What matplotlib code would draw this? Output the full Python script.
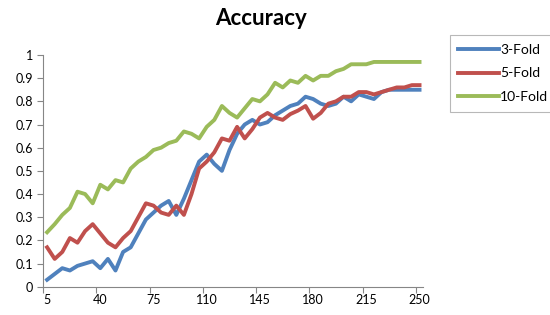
import matplotlib.pyplot as plt

plt.rcParams['font.family'] = ['Lato', 'DejaVu Sans']

steps = list(range(5, 251, 5))

fold3 = [0.03, 0.055, 0.08, 0.07, 0.09, 0.10, 0.11, 0.08, 0.12, 0.07,
         0.15, 0.17, 0.23, 0.29, 0.32, 0.35, 0.37, 0.31, 0.38, 0.46,
         0.54, 0.57, 0.53, 0.50, 0.59, 0.66, 0.70, 0.72, 0.70, 0.71,
         0.74, 0.76, 0.78, 0.79, 0.82, 0.81, 0.79, 0.78, 0.79, 0.82,
         0.80, 0.83, 0.82, 0.81, 0.84, 0.85, 0.85, 0.85, 0.85, 0.85]

fold5 = [0.17, 0.12, 0.15, 0.21, 0.19, 0.24, 0.27, 0.23, 0.19, 0.17,
         0.21, 0.24, 0.30, 0.36, 0.35, 0.32, 0.31, 0.35, 0.31, 0.40,
         0.51, 0.54, 0.58, 0.64, 0.63, 0.69, 0.64, 0.68, 0.73, 0.75,
         0.73, 0.72, 0.745, 0.76, 0.78, 0.725, 0.75, 0.79, 0.80, 0.82,
         0.82, 0.84, 0.84, 0.83, 0.84, 0.85, 0.86, 0.86, 0.87, 0.87]

fold10 = [0.235, 0.27, 0.31, 0.34, 0.41, 0.40, 0.36, 0.44, 0.42, 0.46,
          0.45, 0.51, 0.54, 0.56, 0.59, 0.60, 0.62, 0.63, 0.67, 0.66,
          0.64, 0.69, 0.72, 0.78, 0.75, 0.73, 0.77, 0.81, 0.80, 0.83,
          0.88, 0.86, 0.89, 0.88, 0.91, 0.89, 0.91, 0.91, 0.93, 0.94,
          0.96, 0.96, 0.96, 0.97, 0.97, 0.97, 0.97, 0.97, 0.97, 0.97]

labels = ['3-Fold', '5-Fold', '10-Fold']
colors = ['#4F81BD', '#C0504D', '#9BBB59']
tick_vals = steps[::7]

fig = plt.figure(figsize=(5.5, 3.15), dpi=100)
ax = fig.add_axes([0.0787, 0.0898, 0.691, 0.7356])

for ys, lab, c in zip([fold3, fold5, fold10], labels, colors):
    ax.plot(steps, ys, color=c, lw=2.8, label=lab, solid_joinstyle='round')

# category axis: tick marks between categories, labels centred on them
ax.set_xlim(steps[0] - 2.5, steps[-1] + 2.5)
ax.set_xticks([v - 2.5 for v in tick_vals])
ax.set_xticklabels([])
ax.set_xticks(tick_vals, minor=True)
ax.set_xticklabels([str(v) for v in tick_vals], minor=True)
ax.tick_params(axis='x', which='minor', length=0, pad=5)
ax.set_ylim(0, 1)
ax.set_yticks([i / 10 for i in range(11)])
ax.set_yticklabels(['0'] + ['%.1f' % (i / 10) for i in range(1, 10)] + ['1'])

for s in ['top', 'right']:
    ax.spines[s].set_visible(False)
for s in ['left', 'bottom']:
    ax.spines[s].set_color('#868686')
ax.tick_params(which='major', direction='out', length=4, color='#868686',
               labelsize=9, labelcolor='#000000')
ax.tick_params(which='minor', labelsize=9)

fig.text(0.475, 0.942, 'Accuracy', ha='center', va='center',
         fontsize=16, fontweight='bold')

leg = fig.legend(loc='upper left', bbox_to_anchor=(0.818, 0.888),
                 frameon=True, fancybox=False, fontsize=10,
                 handlelength=2.9, handletextpad=0.1, labelspacing=0.85,
                 borderpad=0.6, borderaxespad=0)
leg.get_frame().set_edgecolor('#a6a6a6')
leg.get_frame().set_linewidth(0.8)

plt.savefig('out.png', dpi=100)
